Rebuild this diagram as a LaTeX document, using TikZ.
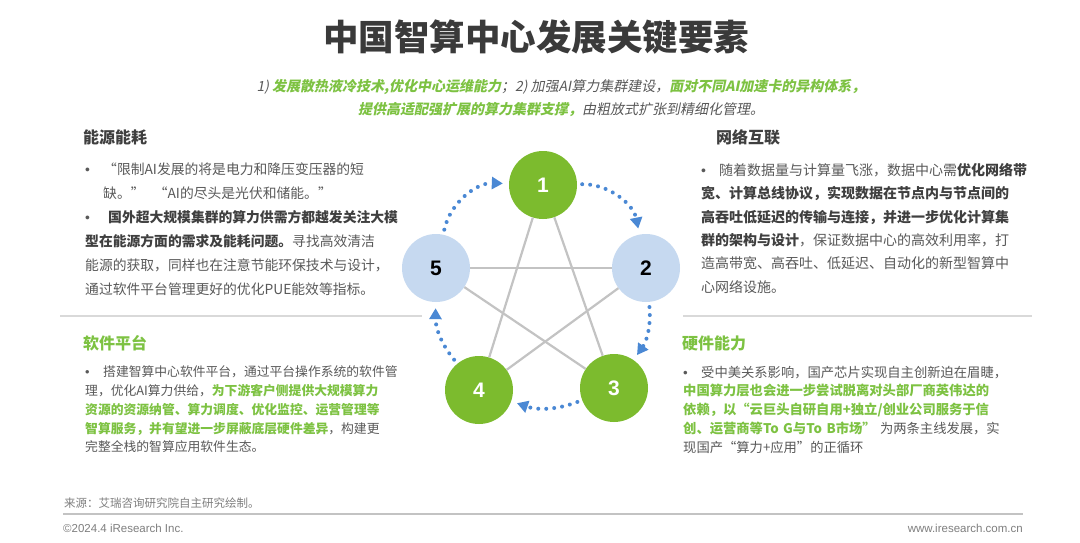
\documentclass[tikz,border=0pt]{standalone}
\usepackage{fontspec}
\setmainfont{Noto Sans CJK SC}
\newfontfamily\slantfont{Noto Sans CJK SC}[FakeSlant=0.2]
\newfontfamily\numfont{Liberation Sans}
\usetikzlibrary{arrows.meta, positioning}
\definecolor{cgreen}{HTML}{7DC242}
\definecolor{cball}{HTML}{7CBB2E}
\definecolor{cblue}{HTML}{4A88D4}
\definecolor{lightblue}{HTML}{C6D9F0}
\definecolor{ctitle}{HTML}{3A3A3A}
\definecolor{cdark}{HTML}{3F3F3F}
\definecolor{cgray}{HTML}{595959}
\definecolor{cfoot}{HTML}{7F7F7F}
\definecolor{lightgray}{HTML}{C3C3C3}
\definecolor{rulegray}{HTML}{D9D9D9}
\newcommand{\gr}[1]{{\bfseries\color{cgreen}#1}}
\newcommand{\dk}[1]{{\bfseries\color{cdark}#1}}
\newcommand{\bpar}{\noindent\hangindent=18pt\hangafter=1\makebox[18pt][l]{\numfont •}}

\begin{document}
\begin{tikzpicture}[x=1pt, y=-1pt,
  ballgreen/.style={circle, fill=cball, minimum size=68pt, inner sep=0pt, text=white,
    font=\numfont\bfseries\fontsize{21}{21}\selectfont},
  ballblue/.style={circle, fill=lightblue, minimum size=68pt, inner sep=0pt, text=black,
    font=\numfont\bfseries\fontsize{21}{21}\selectfont},
  starline/.style={lightgray, line width=2.2pt},
  cycarrow/.style={cblue, line width=4pt, line cap=round, dash pattern=on 0pt off 8pt,
    shorten <=5pt, shorten >=6pt, -{Triangle[length=11pt, width=12pt]}},
  headtext/.style={anchor=west, inner sep=0pt, font=\bfseries\fontsize{16}{16}\selectfont},
  bodytext/.style={anchor=north west, inner sep=0pt, text width=345pt, text=cgray}]
  \fill[white] (0,0) rectangle (1080,543);

  % title
  \node[font=\bfseries\fontsize{35.5}{36}\selectfont, text=ctitle] (title) at (536,37) {中国智算中心发展关键要素};
  \node[font=\slantfont\fontsize{14}{23}\selectfont, align=center, text=cgray] (subtitle) at (561,98)
    {1)~\gr{发展散热液冷技术,优化中心运维能力}；2)~加强AI算力集群建设，\gr{面对不同AI加速卡的异构体系，}\\
     \gr{提供高适配强扩展的算力集群支撑，}由粗放式扩张到精细化管理。};

  % four sections
  \node[headtext, text=cdark] (energy) at (83,137) {能源能耗};
  \node[headtext, text=cdark] (network) at (716,137) {网络互联};
  \node[headtext, text=cgreen] (software) at (83,343) {软件平台};
  \node[headtext, text=cgreen] (hardware) at (682,343) {硬件能力};

  \node[bodytext, font=\fontsize{13.8}{24}\selectfont] (energytxt) at (85,163) {%
    \bpar “限制AI发展的将是电力和降压变压器的短\newline 缺。”~~“AI的尽头是光伏和储能。”\par
    \bpar\hspace{5pt}\dk{国外超大规模集群的算力供需方都越发关注大模\newline 型在能源方面的需求及能耗问题。}寻找高效清洁\newline
    能源的获取，同样也在注意节能环保技术与设计，\newline 通过软件平台管理更好的优化PUE能效等指标。};
  \node[bodytext, font=\fontsize{14}{23.4}\selectfont] (networktxt) at (701,163) {%
    \bpar 随着数据量与计算量飞涨，数据中心需\dk{优化网络带\newline 宽、计算总线协议，实现数据在节点内与节点间的\newline
    高吞吐低延迟的传输与连接，并进一步优化计算集\newline 群的架构与设计}，保证数据中心的高效利用率，打\newline
    造高带宽、高吞吐、低延迟、自动化的新型智算中\newline 心网络设施。};
  \node[bodytext, font=\fontsize{12.8}{18.8}\selectfont] (softwaretxt) at (85,365.6) {%
    \bpar 搭建智算中心软件平台，通过平台操作系统的软件管\newline 理，优化AI算力供给，\gr{为下游客户侧提供大规模算力\newline
    资源的资源纳管、算力调度、优化监控、运营管理等\newline 智算服务，并有望进一步屏蔽底层硬件差异}，构建更\newline
    完整全栈的智算应用软件生态。};
  \node[bodytext, font=\fontsize{13.3}{18.8}\selectfont] (hardwaretxt) at (683,365.6) {%
    \bpar 受中美关系影响，国产芯片实现自主创新迫在眉睫，\newline \gr{中国算力层也会进一步尝试脱离对头部厂商英伟达的\newline
    依赖，以“云巨头自研自用+独立/创业公司服务于信\newline 创、运营商等To G与To B市场”} 为两条主线发展，实\newline
    现国产“算力+应用”的正循环};

  \draw[rulegray, line width=1.2pt] (60,316) -- (422,316);
  \draw[rulegray, line width=1.2pt] (683,316) -- (1032,316);

  % five balls
  \node[ballgreen] (c1) at (543,185) {1};
  \node[ballblue] (c2) at (646,268) {2};
  \node[ballgreen] (c3) at (614,388) {3};
  \node[ballgreen] (c4) at (479,390) {4};
  \node[ballblue] (c5) at (436,268) {5};
  \foreach \a/\b in {1/3,1/4,2/4,2/5,3/5}
    \draw[starline] (c\a) -- (c\b);
  \foreach \a/\b/\bnd in {1/2/40,2/3/20,3/4/20,4/5/20,5/1/40}
    \draw[cycarrow] (c\a) to[bend left=\bnd] (c\b);

  % footer
  \node[anchor=west, inner sep=0pt, font=\fontsize{11.5}{12}\selectfont, text=cfoot] (source) at (64,503) {来源：艾瑞咨询研究院自主研究绘制。};
  \draw[lightgray, line width=1.3pt] (63,514) -- (1023,514);
  \node[anchor=west, inner sep=0pt, font=\numfont\fontsize{11.5}{12}\selectfont, text=cfoot] (copyright) at (63,528) {©2024.4 iResearch Inc.};
  \node[anchor=east, inner sep=0pt, font=\numfont\fontsize{11.5}{12}\selectfont, text=cfoot] (website) at (1023,528) {www.iresearch.com.cn};
\end{tikzpicture}
\end{document}
